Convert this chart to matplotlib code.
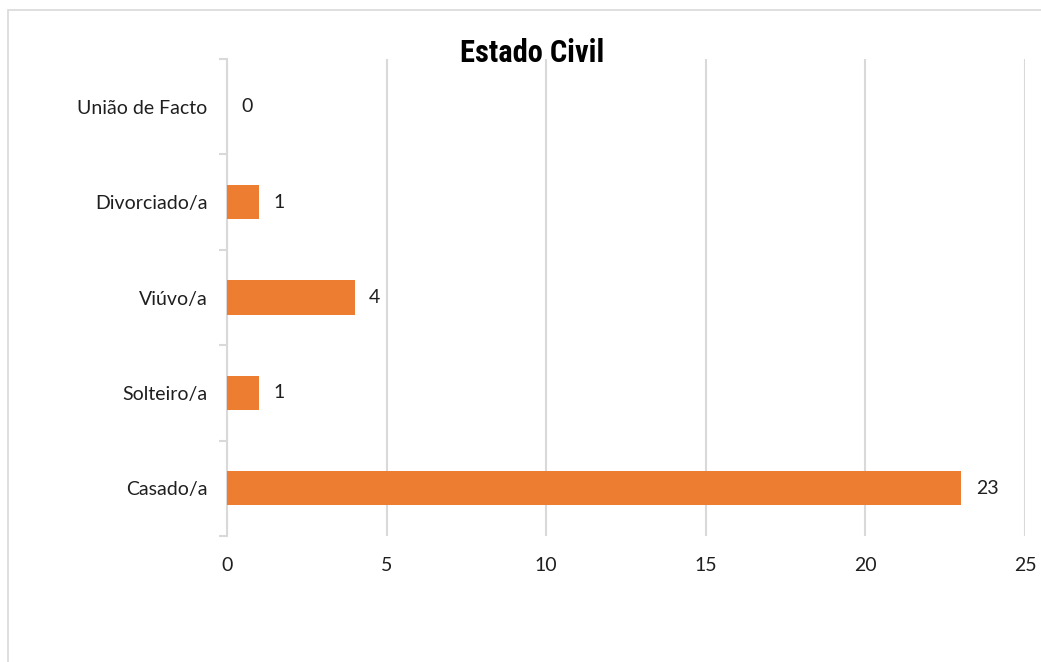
import matplotlib.pyplot as plt
import numpy as np
from matplotlib.patches import Rectangle

categories = ["Casado/a", "Solteiro/a", "Viúvo/a", "Divorciado/a", "União de Facto"]
values = [23, 1, 4, 1, 0]
xticks = [0, 5, 10, 15, 20, 25]

plt.rcParams['font.family'] = ['Lato', 'DejaVu Sans']

fig = plt.figure(figsize=(10.41, 6.62), dpi=100)
fig.patches.append(Rectangle((8 / 1041, -0.1), 1.2, 1 - 10 / 662 + 0.1,
                             transform=fig.transFigure, fill=False,
                             edgecolor='#d9d9d9', linewidth=1.2))

ax = fig.add_axes([227 / 1041, 1 - 536 / 662, 798 / 1041, 477 / 662])
y = np.arange(len(categories))
ax.barh(y, values, height=0.36, color='#ED7D31', zorder=3)

for yi, v in zip(y, values):
    ax.annotate(str(v), (v, yi), xytext=(10.5, 0), textcoords='offset points',
                va='center', ha='left', fontsize=14, color='#1f1f1f')

ax.set_xlim(0, 25)
ax.set_ylim(-0.5, len(categories) - 0.5)
ax.set_xticks(xticks)
ax.set_yticks(y)
ax.set_yticklabels(categories)
ax.set_yticks(np.arange(-0.5, len(categories), 1), minor=True)

ax.grid(axis='x', color='#d9d9d9', linewidth=1.5, zorder=0)
for s in ['top', 'right', 'bottom']:
    ax.spines[s].set_visible(False)
ax.spines['left'].set_color('#d9d9d9')
ax.spines['left'].set_linewidth(1.5)

ax.tick_params(axis='x', length=0, pad=15, labelsize=14, labelcolor='#1f1f1f')
ax.tick_params(axis='y', which='major', length=0, pad=14, labelsize=14, labelcolor='#1f1f1f')
ax.tick_params(axis='y', which='minor', length=6, width=1.5, color='#d9d9d9')

fig.text(532 / 1041, 1 - 53 / 662, "Estado Civil", ha='center', va='center',
         fontsize=22, fontweight='bold',
         family=['Liberation Sans Narrow', 'Roboto Condensed', 'Roboto', 'DejaVu Sans'])

fig.savefig('out.png', dpi=100)
